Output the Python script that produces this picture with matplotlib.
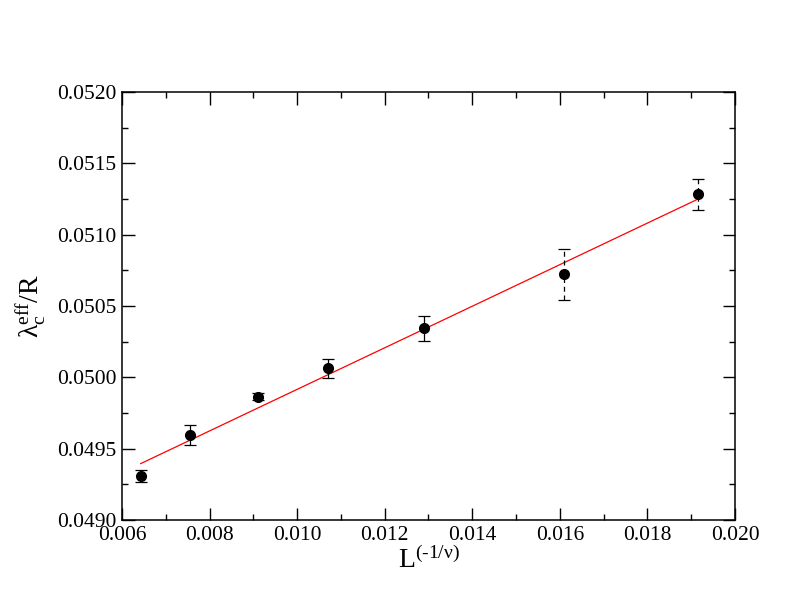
import numpy as np
import matplotlib
matplotlib.use("Agg")
import matplotlib.pyplot as plt
from matplotlib.ticker import MultipleLocator, FormatStrFormatter

# data
x_vals = [0.006427, 0.00756, 0.009113, 0.010712, 0.012904, 0.016101, 0.019148]
y_vals = [0.049308, 0.049594, 0.049864, 0.050065, 0.050344, 0.050722, 0.051283]
y_errs = [0.000042, 0.000070, 0.000025, 0.000067, 0.000088, 0.000180, 0.000107]
dashed_err = [False, False, False, False, False, True, True]

# linear fit drawn in red
fit_slope = 0.14567
fit_intercept = 0.048459

plt.rcParams['font.family'] = ['Liberation Serif', 'DejaVu Serif']
plt.rcParams['mathtext.fontset'] = 'custom'
plt.rcParams['mathtext.rm'] = 'Liberation Serif'
plt.rcParams['mathtext.it'] = 'Liberation Serif:italic'

fig = plt.figure(figsize=(7.92, 6.12), dpi=100)
ax = fig.add_axes([0.154, 0.1503, 0.774, 0.6994])

fit_x = np.array([x_vals[0], x_vals[-1]])
ax.plot(fit_x, fit_intercept + fit_slope * fit_x, color='red', lw=0.9, zorder=2)

for x, y, e, d in zip(x_vals, y_vals, y_errs, dashed_err):
    eb = ax.errorbar([x], [y], yerr=[e], fmt='o', color='black', ms=7,
                     ecolor='black', elinewidth=0.9, capsize=4.5, capthick=0.9, zorder=3)
    if d:
        eb[2][0].set_linestyle((0, (4, 3)))

ax.set_xlim(0.006, 0.020)
ax.set_ylim(0.0490, 0.0520)
ax.xaxis.set_major_locator(MultipleLocator(0.002))
ax.xaxis.set_minor_locator(MultipleLocator(0.001))
ax.yaxis.set_major_locator(MultipleLocator(0.0005))
ax.yaxis.set_minor_locator(MultipleLocator(0.00025))
ax.xaxis.set_major_formatter(FormatStrFormatter('%.3f'))
ax.yaxis.set_major_formatter(FormatStrFormatter('%.4f'))

ax.tick_params(which='both', direction='in', top=True, right=True, width=1.0, labelsize=15.5)
ax.tick_params(which='major', length=9, pad=4)
ax.tick_params(which='minor', length=4.5)
for s in ax.spines.values():
    s.set_linewidth(1.1)

ax.set_xlabel('L$^{\\mathrm{(\u20101/ν)}}$', fontsize=20, labelpad=2)
ax.set_ylabel(r'$\mathrm{λ}_\mathrm{c}^\mathrm{eff}$/R', fontsize=20, labelpad=6)

fig.savefig('out.png', dpi=100)
